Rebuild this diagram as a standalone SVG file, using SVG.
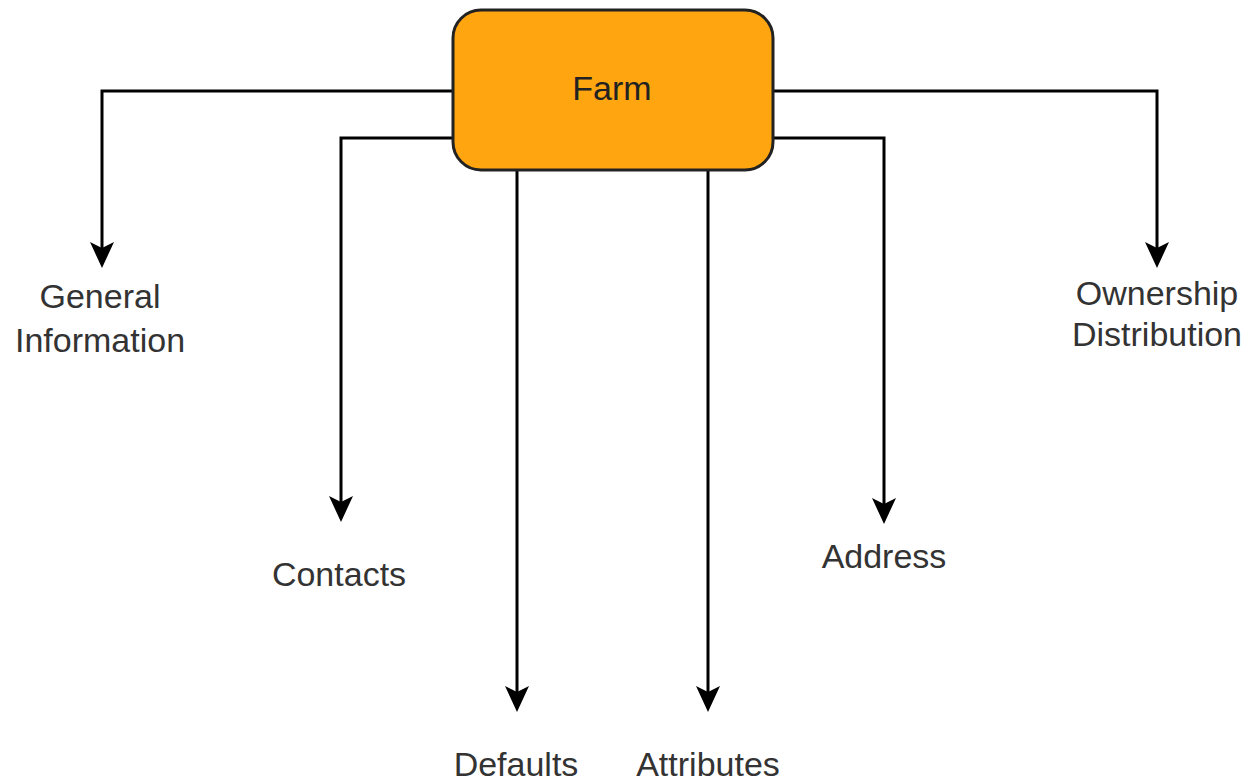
<svg xmlns="http://www.w3.org/2000/svg" width="1253" height="782" viewBox="0 0 1253 782">
<style>
.lbl{font-family:"Liberation Sans",Arial,sans-serif;font-size:34px;fill:#333;text-anchor:middle}
.c{fill:none;stroke:#000;stroke-width:3}
</style>
<defs>
<marker id="ah" markerUnits="userSpaceOnUse" markerWidth="30" markerHeight="26" refX="18" refY="13" orient="auto" viewBox="0 0 30 26">
<path d="M2,1 L28,13 L2,25 L8,13 Z" fill="#000"/>
</marker>
</defs>
<rect width="1253" height="782" fill="#fff"/>
<g id="connectors">
<path class="c" d="M453,91 H102 V258" marker-end="url(#ah)"/>
<path class="c" d="M453,138 H341 V512" marker-end="url(#ah)"/>
<path class="c" d="M517,170 V702" marker-end="url(#ah)"/>
<path class="c" d="M708,170 V702" marker-end="url(#ah)"/>
<path class="c" d="M773,138 H884 V514" marker-end="url(#ah)"/>
<path class="c" d="M773,91 H1157 V258" marker-end="url(#ah)"/>
</g>
<g id="farm">
<rect x="453" y="10" width="320" height="160" rx="28" fill="#FFA510" stroke="#222" stroke-width="3"/>
<text class="lbl" x="612" y="100" style="fill:#222">Farm</text>
</g>
<g id="general"><text class="lbl" x="100" y="308">General</text><text class="lbl" x="100" y="352">Information</text></g>
<g id="contacts"><text class="lbl" x="339" y="586">Contacts</text></g>
<g id="defaults"><text class="lbl" x="516" y="776">Defaults</text></g>
<g id="attributes"><text class="lbl" x="708" y="776">Attributes</text></g>
<g id="address"><text class="lbl" x="884" y="568">Address</text></g>
<g id="ownership"><text class="lbl" x="1157" y="305">Ownership</text><text class="lbl" x="1157" y="346">Distribution</text></g>
</svg>
